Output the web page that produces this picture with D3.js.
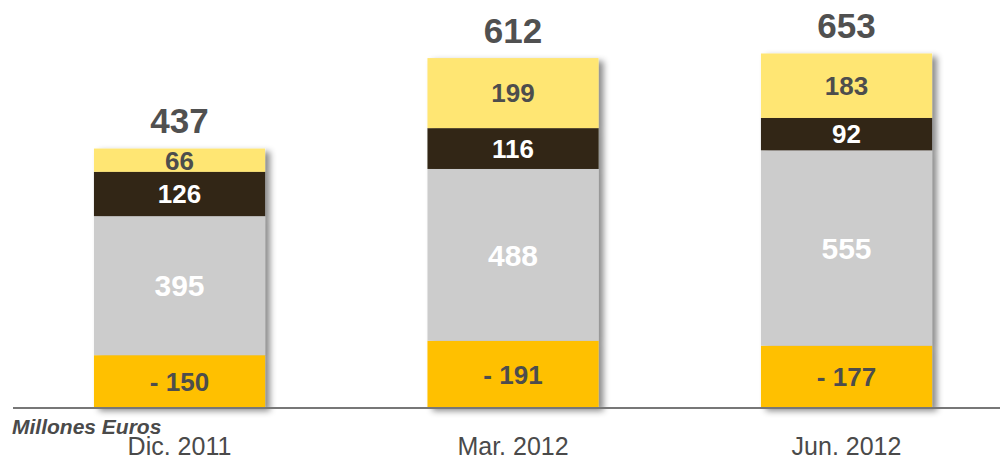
<!DOCTYPE html>
<html>
<head>
<meta charset="utf-8">
<script src="https://cdn.jsdelivr.net/npm/d3@7"></script>
<style>
  body { margin: 0; background: #fff; }
  svg { font-family: "Liberation Sans", Arial, sans-serif; }
</style>
</head>
<body>
<div id="chart"></div>
<script>
var w = 1000;
var h = 460;

var categories = ["Dic. 2011", "Mar. 2012", "Jun. 2012"];
var negativo = [-150, -191, -177];
var gris = [395, 488, 555];
var oscuro = [126, 116, 92];
var claro = [66, 199, 183];
var totales = [437, 612, 653];

var series = [
  {key: "neg", values: negativo, fill: "#FFC000", text: "#4d4d4d", size: 26, label: function(v){ return "- " + Math.abs(v); }},
  {key: "gris", values: gris, fill: "#CCCCCC", text: "#ffffff", size: 30, label: String},
  {key: "oscuro", values: oscuro, fill: "#332616", text: "#ffffff", size: 26, label: String},
  {key: "claro", values: claro, fill: "#FFE673", text: "#4d4d4d", size: 26, label: String}
];

var rows = categories.map(function(c, i) {
  var r = {cat: c};
  series.forEach(function(s) { r[s.key] = Math.abs(s.values[i]); });
  return r;
});

var stack = d3.stack().keys(series.map(function(s){ return s.key; }));
var stacked = stack(rows);

var x = d3.scaleBand()
          .domain(categories)
          .range([12.75, 1013.25])
          .paddingInner(0.487)
          .paddingOuter(0.2435);

var y = d3.scaleLinear()
          .domain([0, 1007])
          .range([408, 53.5]);

var svg = d3.select("#chart")
            .append("svg")
            .attr("width", w)
            .attr("height", h);

var defs = svg.append("defs");
var f = defs.append("filter")
            .attr("id", "shadow")
            .attr("x", "-10%").attr("y", "-10%")
            .attr("width", "130%").attr("height", "130%");
f.append("feDropShadow")
  .attr("dx", 5).attr("dy", 3)
  .attr("stdDeviation", 3)
  .attr("flood-color", "#000")
  .attr("flood-opacity", 0.45);

// barras
var bars = svg.append("g").attr("filter", "url(#shadow)");
stacked.forEach(function(layer, li) {
  bars.selectAll(".s" + li)
      .data(layer)
      .enter()
      .append("rect")
      .attr("x", function(d){ return x(d.data.cat); })
      .attr("y", function(d){ return y(d[1]); })
      .attr("width", x.bandwidth())
      .attr("height", function(d){ return y(d[0]) - y(d[1]); })
      .attr("fill", series[li].fill);
});

// linea base
svg.append("line")
   .attr("x1", 13).attr("x2", 1000)
   .attr("y1", 408).attr("y2", 408)
   .attr("stroke", "#777")
   .attr("stroke-width", 2);

// etiquetas de segmento
stacked.forEach(function(layer, li) {
  svg.selectAll(".l" + li)
     .data(layer)
     .enter()
     .append("text")
     .attr("x", function(d){ return x(d.data.cat) + x.bandwidth() / 2; })
     .attr("y", function(d){ return (y(d[0]) + y(d[1])) / 2; })
     .attr("dy", "0.36em")
     .attr("text-anchor", "middle")
     .attr("font-size", series[li].size)
     .attr("font-weight", "bold")
     .attr("fill", series[li].text)
     .text(function(d, i){ return series[li].label(series[li].values[i]); });
});

// totales
var topLayer = stacked[stacked.length - 1];
svg.selectAll(".total")
   .data(topLayer)
   .enter()
   .append("text")
   .attr("x", function(d){ return x(d.data.cat) + x.bandwidth() / 2; })
   .attr("y", function(d){ return y(d[1]) - 28; })
   .attr("dy", "0.36em")
   .attr("text-anchor", "middle")
   .attr("font-size", 35)
   .attr("font-weight", "bold")
   .attr("fill", "#505050")
   .text(function(d, i){ return totales[i]; });

// categorias
svg.selectAll(".cat")
   .data(categories)
   .enter()
   .append("text")
   .attr("x", function(d){ return x(d) + x.bandwidth() / 2; })
   .attr("y", 455)
   .attr("text-anchor", "middle")
   .attr("font-size", 25)
   .attr("fill", "#4a4a4a")
   .text(function(d){ return d; });

svg.append("text")
   .attr("x", 12)
   .attr("y", 434)
   .attr("font-size", 21)
   .attr("font-weight", "bold")
   .attr("font-style", "italic")
   .attr("fill", "#4a4a4a")
   .text("Millones Euros");
</script>
</body>
</html>
